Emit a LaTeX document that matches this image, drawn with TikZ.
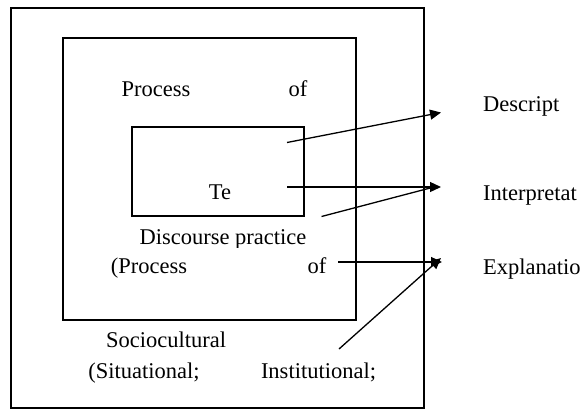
\documentclass[tikz,border=0pt]{standalone}
\usepackage{fontspec}
\setmainfont{Liberation Serif}
\usetikzlibrary{arrows.meta}
\begin{document}
\begin{tikzpicture}[x=1pt,y=-1pt,
  box/.style={draw, line width=1.3pt},
  lbl/.style={font=\fontsize{22.5}{26}\selectfont, inner sep=0pt, anchor=base},
  lbll/.style={lbl, anchor=base west},
  arr/.style={line width=1.3pt, -{Triangle[length=11pt,width=10pt]}}]
\useasboundingbox (0,0) rectangle (583,410);
\draw[box] (11,8) rectangle (424,408);
\draw[box] (63,38) rectangle (356,320);
\draw[box] (132,127) rectangle (304,216);
\node[lbl] (p1) at (156,96) {Process};
\node[lbl] (o1) at (298,96) {of};
\node[lbl] (te) at (220,199) {Te};
\begin{scope}
\clip (120,220) rectangle (330,247.5);
\node[lbl] (dp) at (223,244) {Discourse practice};
\end{scope}
\node[lbl] (p2) at (149,273) {(Process};
\node[lbl] (o2) at (317,273) {of};
\node[lbl] (sc) at (166,347.5) {Sociocultural};
\node[lbl] (si) at (144,378) {(Situational;};
\node[lbl] (in) at (318.5,378) {Institutional;};
\node[lbll] (de) at (483,111) {Descript};
\node[lbll] (ip) at (483,200) {Interpretat};
\node[lbll] (ex) at (483,274) {Explanatio};
\coordinate (a1s) at (287,142.5);
\coordinate (a1e) at (441,112.5);
\coordinate (a2s) at (287,187);
\coordinate (a2e) at (441,187);
\coordinate (a3s) at (321.5,216.5);
\coordinate (a3e) at (434,187);
\coordinate (a4s) at (338,262);
\coordinate (a4e) at (442,262);
\coordinate (a5s) at (339,349);
\coordinate (a5e) at (441,258);
\draw[arr] (a1s) -- (a1e);
\draw[arr] (a2s) -- (a2e);
\draw[line width=1.3pt] (a3s) -- (a3e);
\draw[arr] (a4s) -- (a4e);
\draw[arr] (a5s) -- (a5e);
\end{tikzpicture}
\end{document}
